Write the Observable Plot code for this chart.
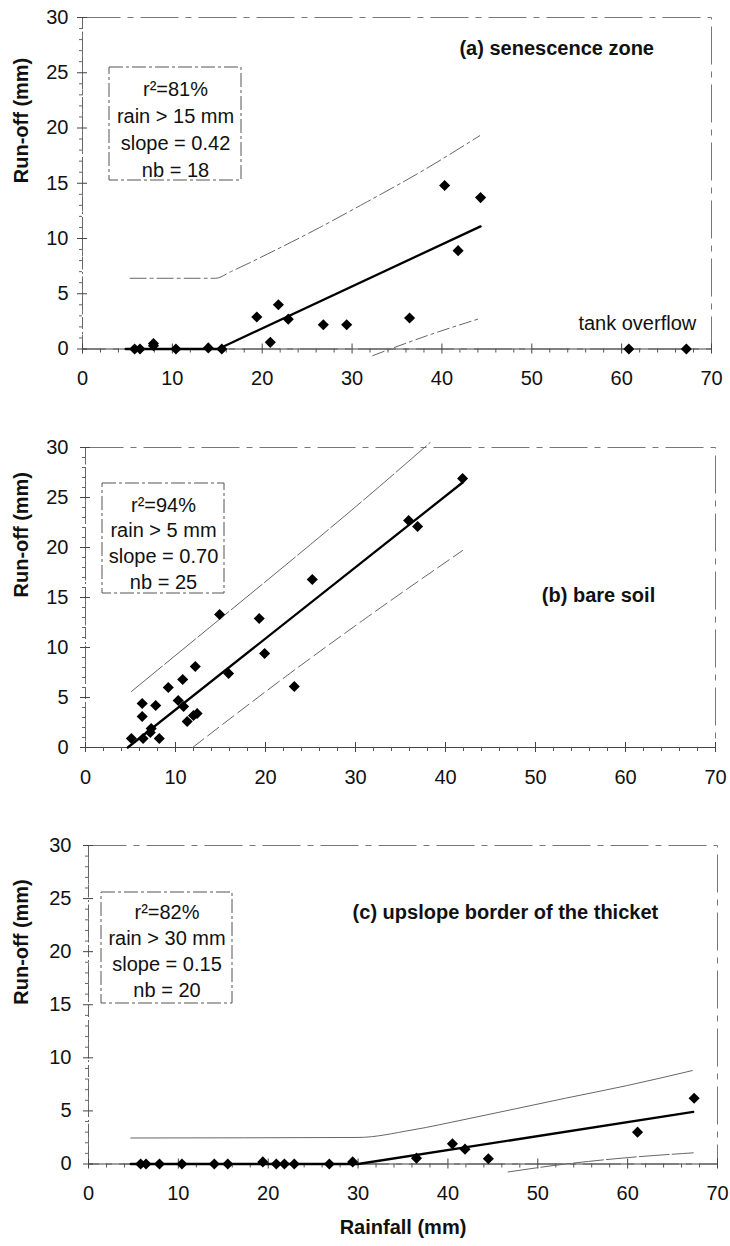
<!DOCTYPE html>
<html>
<head>
<meta charset="utf-8">
<script src="https://cdn.jsdelivr.net/npm/d3@7"></script>
<script src="https://cdn.jsdelivr.net/npm/@observablehq/plot@0.6"></script>
<style>
  html, body { margin: 0; padding: 0; background: #fff; }
  #chart { width: 730px; }
  #chart svg { display: block; }
</style>
</head>
<body>
<div id="chart"></div>
<script>
// ---------- tick labels ----------
const xTicks = [0, 10, 20, 30, 40, 50, 60, 70];
const yTicks = [0, 5, 10, 15, 20, 25, 30];
const xMinor = d3.range(2, 70, 2).filter(d => d % 10 !== 0);
const yMinor = d3.range(1, 30, 1).filter(d => d % 5 !== 0);

// ---------- (a) senescence zone ----------
const rainA   = [5.8, 6.4, 7.9, 7.9, 10.4, 14.0, 15.5, 19.4, 20.9, 21.8, 22.9, 26.8, 29.4, 36.4, 40.3, 41.8, 44.3, 60.8, 67.2];
const runoffA = [0.0, 0.0, 0.3, 0.5, 0.0, 0.1, 0.0, 2.9, 0.6, 4.0, 2.7, 2.2, 2.2, 2.8, 14.8, 8.9, 13.7, 0.0, 0.0];
const fitAx   = [4.8, 15.1, 44.3];
const fitAy   = [0.0, 0.0, 11.1];
const upAx    = [5.3, 14.8, 16.5, 20.6, 26.4, 31.4, 38.0, 44.2];
const upAy    = [6.4, 6.4, 7.0, 8.6, 11.0, 13.2, 16.2, 19.3];
const loAx    = [32.3, 38.9, 44.2];
const loAy    = [-0.6, 1.36, 2.75];
const statsA  = ["r²=81%", "rain > 15 mm", "slope = 0.42", "nb = 18"];

// ---------- (b) bare soil ----------
const rainB   = [5.1, 6.3, 6.3, 6.4, 7.3, 7.2, 7.8, 8.2, 9.2, 10.3, 10.8, 10.9, 11.3, 12.0, 12.4, 12.2, 14.9, 15.9, 19.3, 19.9, 23.2, 25.2, 35.9, 36.9, 41.9];
const runoffB = [0.9, 4.4, 3.1, 0.9, 1.9, 1.5, 4.2, 0.9, 6.0, 4.7, 6.8, 4.1, 2.6, 3.2, 3.4, 8.1, 13.3, 7.4, 12.9, 9.4, 6.1, 16.8, 22.7, 22.1, 26.9];
const fitBx   = [4.7, 41.9];
const fitBy   = [0.0, 26.5];
const upBx    = [5.1, 15.0, 25.0, 31.1, 38.3];
const upBy    = [5.6, 12.9, 20.3, 24.9, 30.5];
const loBx    = [11.9, 22.4, 31.1, 41.9];
const loBy    = [0.0, 7.2, 12.9, 19.7];
const statsB  = ["r²=94%", "rain > 5 mm", "slope = 0.70", "nb = 25"];

// ---------- (c) upslope border of the thicket ----------
const rainC   = [5.8, 6.4, 7.9, 10.4, 14.0, 15.5, 19.4, 20.9, 21.8, 22.9, 26.8, 29.4, 36.5, 40.5, 41.9, 44.5, 61.1, 67.4];
const runoffC = [0.0, 0.0, 0.0, 0.0, 0.0, 0.0, 0.2, 0.0, 0.0, 0.0, 0.0, 0.2, 0.55, 1.9, 1.4, 0.5, 3.0, 6.2];
const fitCx   = [4.7, 30.0, 67.3];
const fitCy   = [0.0, 0.0, 4.9];
const upCx    = [4.7, 30.0, 36.0, 41.9, 53.1, 60.0, 67.2];
const upCy    = [2.45, 2.5, 3.2, 4.2, 6.2, 7.4, 8.8];
const loCx    = [46.7, 53.1, 60.0, 67.3];
const loCy    = [-0.75, 0.0, 0.6, 1.05];
const statsC  = ["r²=82%", "rain > 30 mm", "slope = 0.15", "nb = 20"];

const FONT = '"Liberation Sans", Arial, Helvetica, sans-serif';
const FS = 20;
const zip = (xs, ys) => xs.map((x, i) => ({x, y: ys[i]}));

function boxMark(b) {
  return (index, scales, values, dims) => {
    const r = document.createElementNS("http://www.w3.org/2000/svg", "rect");
    r.setAttribute("x", dims.marginLeft + b.x);
    r.setAttribute("y", dims.marginTop + b.y);
    r.setAttribute("width", b.w);
    r.setAttribute("height", b.h);
    r.setAttribute("fill", "none");
    r.setAttribute("stroke", "#555");
    r.setAttribute("stroke-width", 1);
    r.setAttribute("stroke-dasharray", "14,3,3,3");
    return r;
  };
}

function panel(c) {
  const W = 730 - c.ml - c.mr;
  const H = c.height - c.mt - c.mb;
  const marks = [
    Plot.frame({stroke: "#777", strokeWidth: 1, strokeDasharray: "38,7,6,7"}),
    Plot.ruleY([0], {stroke: "#444", strokeWidth: 1}),
    Plot.ruleX([0], {stroke: "#666", strokeWidth: 1, strokeDasharray: "12,3,2,3"}),
    Plot.ruleX(xTicks, {x: d => d, stroke: "#444", insetTop: H - 5, insetBottom: -5}),
    Plot.ruleX(xMinor, {x: d => d, stroke: "#555", insetTop: H, insetBottom: -4}),
    Plot.ruleY(yTicks, {y: d => d, stroke: "#444", insetLeft: -5, insetRight: W - 5}),
    Plot.ruleY(yMinor, {y: d => d, stroke: "#666", insetLeft: -3, insetRight: W}),
    Plot.line(zip(c.upX, c.upY), {x: "x", y: "y", stroke: "#666", strokeWidth: 1, strokeDasharray: c.upDash, curve: "monotone-x"}),
    Plot.line(zip(c.loX, c.loY), {x: "x", y: "y", stroke: "#666", strokeWidth: 1, strokeDasharray: c.loDash, curve: "monotone-x"}),
    Plot.line(zip(c.fitX, c.fitY), {x: "x", y: "y", stroke: "#000", strokeWidth: 2.3}),
    Plot.dot(zip(c.rain, c.runoff), {x: "x", y: "y", symbol: "diamond2", r: 5, fill: "#000", stroke: "none"}),
    boxMark(c.box),
    Plot.text([c.stats.join("\n")], {frameAnchor: "top-left", dx: c.statsDx, dy: c.statsDy, lineAnchor: "top", textAnchor: "middle", lineHeight: c.statsLH, fontSize: FS, fill: "#111"}),
    Plot.text([c.label], {x: () => c.labelX, y: () => c.labelY, textAnchor: "end", fontWeight: "bold", fontSize: FS, fill: "#111"}),
    Plot.text(["Run-off (mm)"], {frameAnchor: "left", dx: 21 - c.ml, rotate: -90, fontWeight: "bold", fontSize: FS, fill: "#111"})
  ];
  if (c.extra) marks.push(...c.extra);
  return Plot.plot({
    width: 730,
    height: c.height,
    marginTop: c.mt, marginBottom: c.mb, marginLeft: c.ml, marginRight: c.mr,
    style: {fontFamily: FONT, fontSize: FS + "px", color: "#111", background: "#fff", overflow: "visible"},
    x: {domain: [0, 70], ticks: xTicks, tickSize: 0, tickPadding: 22, label: null, tickFormat: d => String(d)},
    y: {domain: [0, 30], ticks: yTicks, tickSize: 0, tickPadding: c.yPad, label: null, tickFormat: d => String(d)},
    marks
  });
}

const chart = document.getElementById("chart");

chart.appendChild(panel({
  height: 400, mt: 17, mb: 51.5, ml: 82, mr: 19, yPad: 14,
  rain: rainA, runoff: runoffA, fitX: fitAx, fitY: fitAy,
  upX: upAx, upY: upAy, loX: loAx, loY: loAy,
  upDash: "16,4,3,4", loDash: "12,4,3,4",
  box: {x: 27, y: 50, w: 132, h: 113},
  stats: statsA, statsDx: 93, statsDy: 59, statsLH: 27 / FS,
  label: "(a) senescence zone", labelX: 63.6, labelY: 27.2,
  extra: [Plot.text(["tank overflow"], {x: () => 68.3, y: () => 2.3, textAnchor: "end", fontSize: FS, fill: "#111"})]
}));

chart.appendChild(panel({
  height: 400, mt: 47, mb: 53, ml: 85, mr: 15, yPad: 17,
  rain: rainB, runoff: runoffB, fitX: fitBx, fitY: fitBy,
  upX: upBx, upY: upBy, loX: loBx, loY: loBy,
  upDash: "40,3", loDash: "14,5",
  box: {x: 17, y: 36, w: 122, h: 110},
  stats: statsB, statsDx: 78, statsDy: 46, statsLH: 25.7 / FS,
  label: "(b) bare soil", labelX: 63.3, labelY: 15.2
}));

chart.appendChild(panel({
  height: 446, mt: 45, mb: 82.5, ml: 88, mr: 13, yPad: 17,
  rain: rainC, runoff: runoffC, fitX: fitCx, fitY: fitCy,
  upX: upCx, upY: upCy, loX: loCx, loY: loCy,
  upDash: null, loDash: "30,3",
  box: {x: 13, y: 47, w: 131, h: 111},
  stats: statsC, statsDx: 78.5, statsDy: 55, statsLH: 26 / FS,
  label: "(c) upslope border of the thicket", labelX: 63.4, labelY: 23.7,
  extra: [Plot.text(["Rainfall (mm)"], {frameAnchor: "bottom", dy: 70, fontWeight: "bold", fontSize: FS, fill: "#111"})]
}));
</script>
</body>
</html>
